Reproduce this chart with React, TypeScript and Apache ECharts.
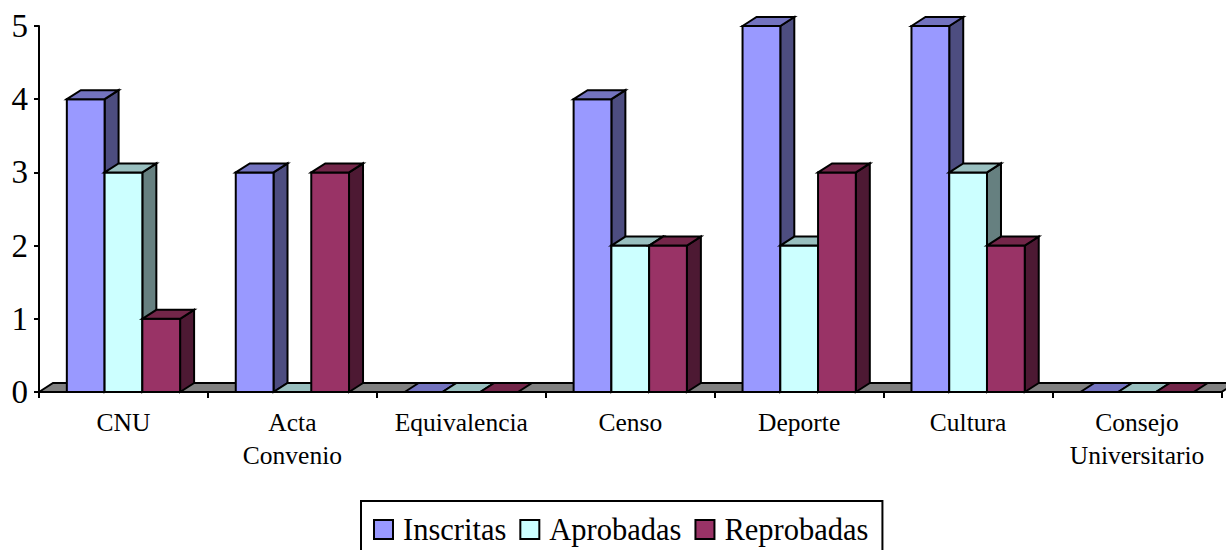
import React, { useEffect, useRef } from "react";
import * as echarts from "echarts";

const categories = ["CNU", "Acta\nConvenio", "Equivalencia", "Censo", "Deporte", "Cultura", "Consejo\nUniversitario"];
const inscritas = [4, 3, 0, 4, 5, 5, 0];
const aprobadas = [3, 0, 0, 2, 2, 3, 0];
const reprobadas = [1, 3, 0, 2, 3, 2, 0];
const seriesNames = ["Inscritas", "Aprobadas", "Reprobadas"];
const seriesValues = [inscritas, aprobadas, reprobadas];
const frontColors = ["#9999FF", "#CCFFFF", "#993366"];
const topColors = ["#7373BF", "#99BFBF", "#732649"];
const sideColors = ["#4D4D80", "#668080", "#4D1933"];

const FONT = "'Liberation Serif', 'Times New Roman', serif";
const DX = 14;
const DY = 9;
const BAR_FRACTION = 0.2235;
const LINE = 2;
const STROKE = { stroke: "#000", lineWidth: LINE, lineJoin: "miter" as const };

function barRenderer(offset: number, s: number) {
  return (_params: any, api: any) => {
    const band = api.size([1, 0])[0];
    const w = band * BAR_FRACTION;
    const [cx, yTop] = api.coord([api.value(0), api.value(1)]);
    const [, yBase] = api.coord([api.value(0), 0]);
    const x0 = cx + (offset - 0.5) * w;
    const x1 = x0 + w;
    const children: any[] = [];
    if (yBase - yTop > 0.5) {
      children.push({
        type: "polygon",
        shape: { points: [[x1, yTop], [x1 + DX, yTop - DY], [x1 + DX, yBase - DY], [x1, yBase]] },
        style: { fill: sideColors[s], ...STROKE },
      });
      children.push({
        type: "rect",
        shape: { x: x0, y: yTop, width: w, height: yBase - yTop },
        style: { fill: frontColors[s], ...STROKE },
      });
    }
    children.push({
      type: "polygon",
      shape: { points: [[x0, yTop], [x0 + DX, yTop - DY], [x1 + DX, yTop - DY], [x1, yTop]] },
      style: { fill: topColors[s], ...STROKE },
    });
    return { type: "group", children };
  };
}

function floorRenderer(_params: any, api: any) {
  const band = api.size([1, 0])[0];
  const [cx, y] = api.coord([0, 0]);
  const left = cx - band / 2;
  const right = left + band * categories.length;
  return {
    type: "polygon",
    shape: { points: [[left, y], [left + DX, y - DY], [right + DX, y - DY], [right, y]] },
    style: { fill: "#808080", ...STROKE },
  };
}

export default function App() {
  const ref = useRef<HTMLDivElement>(null);
  useEffect(() => {
    const chart = echarts.init(ref.current!, undefined, { renderer: "svg" });
    chart.setOption({
      animation: false,
      backgroundColor: "#fff",
      grid: { left: 39, right: 4.5, top: 26, bottom: 158 },
      legend: {
        left: 361,
        top: 501,
        padding: [13, 14, 20, 12],
        itemWidth: 19,
        itemHeight: 19,
        itemGap: 13,
        borderColor: "#000",
        borderWidth: LINE,
        selectedMode: false,
        textStyle: { fontFamily: FONT, fontSize: 30.5, color: "#000", padding: [0, 0, 0, 5] },
        data: seriesNames.map((name, i) => ({
          name,
          icon: "rect",
          itemStyle: { color: frontColors[i], borderColor: "#000", borderWidth: LINE },
        })),
      },
      xAxis: {
        type: "category",
        data: categories,
        axisLine: { lineStyle: { color: "#000", width: LINE } },
        axisTick: { show: true, interval: 0, length: 6, lineStyle: { color: "#000", width: LINE } },
        axisLabel: { fontFamily: FONT, fontSize: 25.5, color: "#000", margin: 14, lineHeight: 33, interval: 0 },
      },
      yAxis: {
        type: "value",
        min: 0,
        max: 5,
        interval: 1,
        splitLine: { show: false },
        axisLine: { show: true, lineStyle: { color: "#000", width: LINE } },
        axisTick: { show: true, length: 5, lineStyle: { color: "#000", width: LINE } },
        axisLabel: { fontFamily: FONT, fontSize: 33, color: "#000", margin: 11 },
      },
      series: [
        {
          type: "custom",
          name: "Piso",
          silent: true,
          renderItem: floorRenderer,
          clip: false,
          encode: { x: 0, y: 1 },
          data: [[0, 0]],
          z: 1,
        },
        ...seriesNames.map((name, s) => ({
          type: "custom",
          name,
          renderItem: barRenderer(s - 1, s),
          clip: false,
          encode: { x: 0, y: 1 },
          data: seriesValues[s].map((v, i) => [i, v]),
          itemStyle: { color: frontColors[s] },
          z: 2 + s,
        })),
      ],
    });
    return () => chart.dispose();
  }, []);
  return <div ref={ref} style={{ position: "absolute", left: 0, top: 0, width: 1226, height: 550, overflow: "hidden" }} />;
}
